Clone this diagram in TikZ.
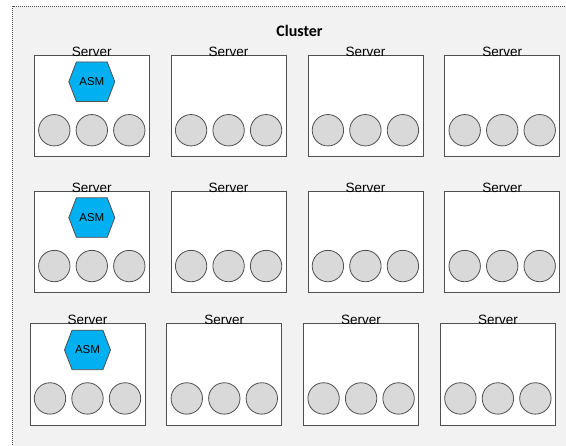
\documentclass[tikz,border=0pt]{standalone}
\usepackage{fontspec}
\usetikzlibrary{calc}
\usetikzlibrary{shapes.symbols}
\newfontfamily\arialfont{Liberation Sans}
\newfontfamily\calfont{Carlito}
\definecolor{bg}{HTML}{F2F2F2}
\definecolor{ln}{HTML}{505050}
\definecolor{dg}{HTML}{D9D9D9}
\definecolor{ab}{HTML}{00B0F0}
\tikzstyle{server}=[draw=ln,fill=white,line width=0.8pt,minimum width=115pt,minimum height=101.5pt,inner sep=0pt,outer sep=0pt]
\tikzstyle{srvname}=[font=\arialfont\fontsize{13.5}{14}\selectfont,anchor=base,inner sep=0pt,yshift=-1pt]
\tikzstyle{drive}=[circle,draw=ln,fill=dg,line width=0.8pt,minimum size=31.4pt,inner sep=0pt]
\tikzstyle{asm}=[signal,signal to=east and west,signal pointer angle=138,draw=ln,fill=ab,line width=0.8pt,minimum width=46pt,minimum height=39.5pt,inner sep=0pt,font=\arialfont\fontsize{11.5}{12}\selectfont]

\begin{document}
\begin{tikzpicture}[x=1pt,y=-1pt,node distance=136.8pt]
	\clip (0,0) rectangle (566,446);
	\draw[fill=bg,draw=ln,dash pattern=on 1pt off 1pt,line width=0.7pt] (12.5,6) rectangle (590,470);
	\node[font=\calfont\bfseries\fontsize{16}{18}\selectfont,anchor=base] (title) at (299.5,36.7) {Cluster};

	\foreach \r/\x/\y in {1/91.8/106,2/91.8/241.8,3/87.5/374.2}{
		\node[server] (s-\r-1) at (\x,\y) {};
		\node[server] (s-\r-2) [right of=s-\r-1] {};
		\node[server] (s-\r-3) [right of=s-\r-2] {};
		\node[server] (s-\r-4) [right of=s-\r-3] {};
		\node[asm,yshift=-26.5pt] (a-\r) at (s-\r-1.north) {ASM};
		\foreach \c in {1,...,4}{
			\node[srvname] (t-\r-\c) at (s-\r-\c.north) {Server};
			\foreach \d/\dx in {1/-37.5,2/0,3/37.5}
				\node[drive,xshift=\dx pt,yshift=26.5pt] (d-\r-\c-\d) at (s-\r-\c.south) {};
		}
	}
\end{tikzpicture}
\end{document}
